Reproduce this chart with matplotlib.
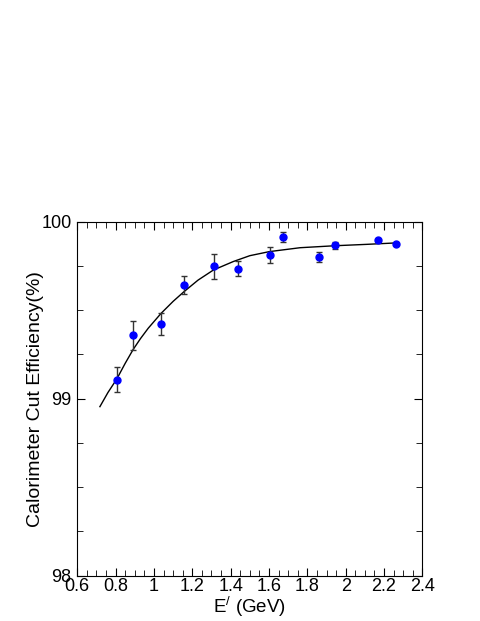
import matplotlib
matplotlib.use("Agg")
import matplotlib.pyplot as plt
from matplotlib.ticker import MultipleLocator, FuncFormatter

plt.rcParams['font.family'] = ['Liberation Sans', 'DejaVu Sans']
plt.rcParams['mathtext.fontset'] = 'custom'
plt.rcParams['mathtext.rm'] = 'Liberation Sans'

# measured points
energy = [0.807, 0.891, 1.037, 1.158, 1.312, 1.440, 1.605, 1.673, 1.863, 1.945, 2.169, 2.261]
eff = [99.107, 99.358, 99.420, 99.642, 99.748, 99.734, 99.812, 99.914, 99.801, 99.868, 99.895, 99.872]
eff_err = [0.072, 0.083, 0.062, 0.049, 0.071, 0.043, 0.044, 0.028, 0.027, 0.020, 0.005, 0.005]

# fit curve
fit_x = [0.718, 0.760, 0.806, 0.850, 0.892, 0.930, 0.970, 1.037, 1.100, 1.157, 1.230,
         1.310, 1.414, 1.500, 1.602, 1.762, 1.941, 2.110, 2.261]
fit_y = [98.955, 99.035, 99.111, 99.200, 99.279, 99.340, 99.398, 99.482, 99.550, 99.605, 99.670,
         99.727, 99.775, 99.808, 99.831, 99.853, 99.864, 99.872, 99.880]

fig = plt.figure(figsize=(4.8, 6.21), dpi=100)
ax = fig.add_axes([0.161, 0.073, 0.719, 0.570])

ax.plot(fit_x, fit_y, color='black', lw=1.0)
ax.errorbar(energy, eff, yerr=eff_err, fmt='o', color='blue', ms=5,
            ecolor='#333333', elinewidth=1.0, capsize=2.5, capthick=1.0)

ax.set_xlim(0.6, 2.4)
ax.set_ylim(98, 100)
ax.xaxis.set_major_locator(MultipleLocator(0.2))
ax.xaxis.set_minor_locator(MultipleLocator(0.05))
ax.yaxis.set_major_locator(MultipleLocator(1))
ax.yaxis.set_minor_locator(MultipleLocator(0.25))
ax.xaxis.set_major_formatter(FuncFormatter(lambda v, p: '%g' % round(v, 2)))
ax.yaxis.set_major_formatter(FuncFormatter(lambda v, p: '%g' % v))
ax.tick_params(which='both', direction='in', top=True, right=True, labelsize=13)
ax.tick_params(axis='x', pad=2)
ax.tick_params(axis='y', pad=4)
ax.tick_params(which='major', length=6)
ax.tick_params(which='minor', length=4)

ax.set_xlabel(r'E$^{/}$ (GeV)', fontsize=13.5, labelpad=-1)
ax.set_ylabel('Calorimeter Cut Efficiency(%)', fontsize=14, labelpad=-2)

fig.savefig('out.png', dpi=100)
